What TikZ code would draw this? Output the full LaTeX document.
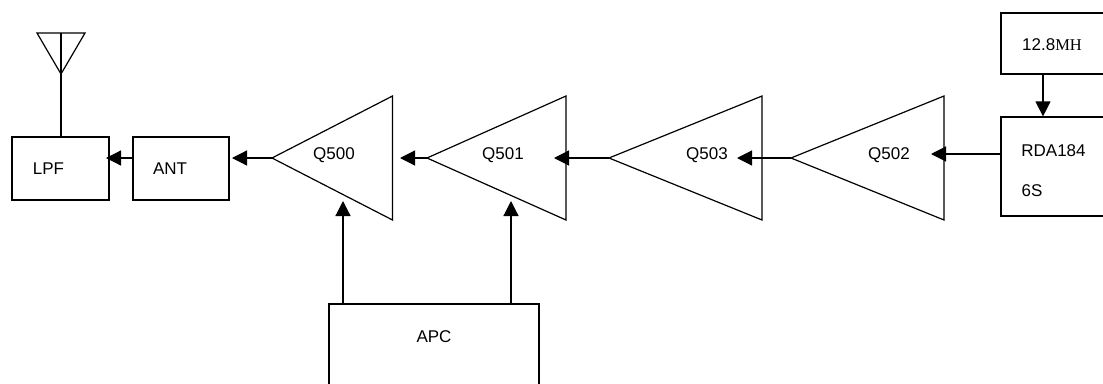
\documentclass[tikz,border=0pt]{standalone}
\usepackage{fontspec}
\setmainfont{Liberation Sans}
\newfontfamily\unitfont{Liberation Serif}
\usetikzlibrary{arrows.meta}
\tikzset{
    blockbox/.style={draw,fill=white,inner sep=0pt},
    amp/.style={draw,fill=white,line join=miter},
    feed/.style={-{Triangle[length=15pt,width=15pt]}}
}
\begin{document}
\begin{tikzpicture}[x=1pt,y=-1pt,line width=1.2pt,font=\fontsize{17}{20}\selectfont]
    \useasboundingbox (0,0) rectangle (1103,383);
    \clip (0,0) rectangle (1103,383);
    \draw (60.5,168.5) node[blockbox,minimum width=97,minimum height=63] (lpf) {} +(-12,0.5) node (lpftext) {LPF};
    \draw (181,168.5) node[blockbox,minimum width=96,minimum height=63] (ant) {} +(-11,0.5) node (anttext) {ANT};
    \draw (434,354) node[blockbox,minimum width=210,minimum height=100] (apc) {} +(0,-17) node (apctext) {APC};
    \draw (1060,43.5) node[blockbox,minimum width=118,minimum height=61] (osc) {} +(-8,1) node (osctext) {12.8{\unitfont\fontsize{16.5}{20}\selectfont MH}};
    \draw (1060,166.5) node[blockbox,minimum width=118,minimum height=99] (rda) {};
    \node (rdatop) at (1053.5,150.5) {RDA184};
    \node (rdabot) at (1032,191) {6S};
    % amplifier stages, apex first
    \draw[amp] (272,158) coordinate (q500) -- (392.5,96) -- (392.5,220) -- cycle;
    \draw[amp] (427,158) coordinate (q501) -- (566,96) -- (566,220) -- cycle;
    \draw[amp] (609,158) coordinate (q503) -- (762,96) -- (762,220) -- cycle;
    \draw[amp] (791,158) coordinate (q502) -- (944,96) -- (944,220) -- cycle;
    \node (q500text) at (334,155) {Q500};
    \node (q501text) at (503,155) {Q501};
    \node (q503text) at (707,155) {Q503};
    \node (q502text) at (889,155) {Q502};
    % antenna
    \draw (37,33) coordinate (anta) -- (85,33) coordinate (antb) -- (61,74) coordinate (antc) -- cycle;
    \coordinate (antd) at (61,33);
    \draw (antd) -- (lpf.north -| antd);
    % signal chain
    \draw[feed] (ant.west |- 0,158) -- (106,158);
    \draw[feed] (q500) -- (232,158);
    \draw[feed] (q501) -- (400,158);
    \draw[feed] (q503) -- (554,158);
    \draw[feed] (q502) -- (737,158);
    \draw[feed] (rda.west |- 0,154) -- (931,154);
    \draw[feed] (osc.south -| 1043,0) -- (rda.north -| 1043,0);
    \draw[feed] (apc.north -| 343,0) -- (343,201);
    \draw[feed] (apc.north -| 511,0) -- (511,201);
\end{tikzpicture}
\end{document}
